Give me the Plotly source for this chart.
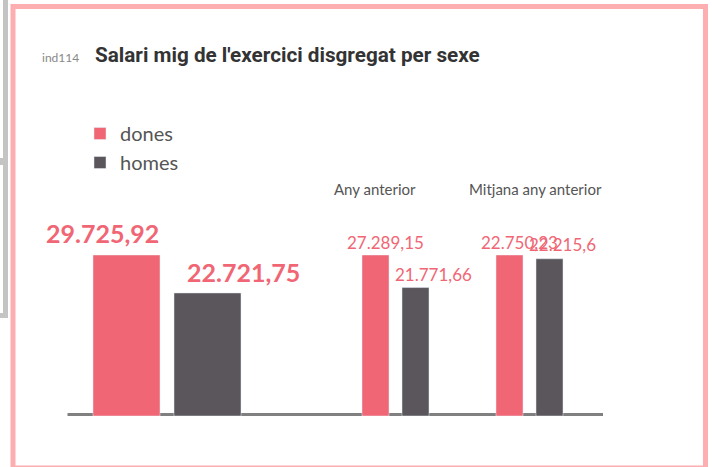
import plotly.graph_objects as go

W, H = 712, 467

# data
sexes = ["dones", "homes"]
group_titles = ["", "Any anterior", "Mitjana any anterior"]
actual = [29725.92, 22721.75]
any_anterior = [27289.15, 21771.66]
mitjana_anterior = [22750.23, 22215.6]
groups = [actual, any_anterior, mitjana_anterior]

PINK = "#f06674"
DARK = "#5a565b"
colors = [PINK, DARK]


def px(x):
    return x / W


def py(y):
    return 1 - y / H


def fmt(v):
    s = f"{v:,.2f}".rstrip("0").rstrip(".")
    return s.replace(",", "#").replace(".", ",").replace("#", ".")


# pixel domains of each group (bars look scaled per group)
x_domains = [(86, 248), (355.5, 435.5), (489.5, 569.5)]
bar_widths = [67 / 81, 27 / 40, 27 / 40]
label_shift = [[(-24, 22), (36, 21)], [(10, 13), (18, 13)], [(10, 13), (13, 14)]]

fig = go.Figure()
annotations = []
for g, vals in enumerate(groups):
    ax = "" if g == 0 else str(g + 1)
    for i, s in enumerate(sexes):
        fig.add_trace(go.Bar(
            x=[s], y=[vals[i]], name=s, marker_color=colors[i],
            width=bar_widths[g], showlegend=(g == 0),
            xaxis="x" + ax, yaxis="y" + ax, hoverinfo="skip",
        ))
        dx, dy = label_shift[g][i]
        annotations.append(dict(
            x=s, y=vals[i], xref="x" + ax, yref="y" + ax, text=fmt(vals[i]),
            showarrow=False, xshift=dx, yshift=dy, yanchor="middle",
            font=dict(family="Lato", size=25 if g == 0 else 17, color=PINK,
                      weight="bold" if g == 0 else "normal"),
        ))
    fig.layout["xaxis" + ax] = dict(
        domain=[px(x_domains[g][0]), px(x_domains[g][1])],
        range=[-0.5, 1.5], visible=False, anchor="y" + ax,
        categoryorder="array", categoryarray=sexes, fixedrange=True,
    )
    fig.layout["yaxis" + ax] = dict(
        domain=[py(416), py(255)], range=[0, max(vals)], visible=False,
        anchor="x" + ax, fixedrange=True,
    )

# group titles
for t, cx in [(group_titles[1], 374.5), (group_titles[2], 535)]:
    annotations.append(dict(x=px(cx), y=py(189), xref="paper", yref="paper",
                            xanchor="center", yanchor="middle", text=t, showarrow=False,
                            font=dict(family="Lato", size=15, color="#555")))

# header
annotations.append(dict(x=px(40), y=py(57), xref="paper", yref="paper",
                        xanchor="left", yanchor="middle", text="ind114", showarrow=False,
                        font=dict(family="Lato", size=12, color="#888")))
annotations.append(dict(x=px(93), y=py(55), xref="paper", yref="paper",
                        xanchor="left", yanchor="middle", showarrow=False,
                        text="<b>Salari mig de l'exercici disgregat per sexe</b>",
                        font=dict(family="Roboto", size=20.7, color="#333")))

shapes = [
    # baseline
    dict(type="line", xref="paper", yref="paper", x0=px(67.5), x1=px(603),
         y0=py(414.5), y1=py(414.5), line=dict(color="#808080", width=3), layer="below"),
    # pink frame
    dict(type="rect", xref="paper", yref="paper", x0=px(13), x1=px(705.5),
         y0=py(6.5), y1=py(468), line=dict(color="#fdaeb0", width=5)),
    # gray bits of the neighbouring panel
    dict(type="rect", xref="paper", yref="paper", x0=px(3), x1=px(8),
         y0=py(0), y1=py(318), fillcolor="#c4c4c4", line_width=0),
    dict(type="rect", xref="paper", yref="paper", x0=px(0), x1=px(8),
         y0=py(158), y1=py(165), fillcolor="#c4c4c4", line_width=0),
    dict(type="rect", xref="paper", yref="paper", x0=px(0), x1=px(8),
         y0=py(313), y1=py(318), fillcolor="#c4c4c4", line_width=0),
]

fig.update_layout(
    width=W, height=H,
    margin=dict(l=0, r=0, t=0, b=0),
    paper_bgcolor="white", plot_bgcolor="white",
    annotations=annotations, shapes=shapes,
    legend=dict(x=px(80), y=py(114), xanchor="left", yanchor="top",
                tracegroupgap=0,
                font=dict(family="Lato", size=20, color="#555"),
                bgcolor="rgba(0,0,0,0)"),
    showlegend=True,
)

# page has a default 8px body margin; drop it so the figure sits at 0,0
fig.write_html("out.html", config={"displayModeBar": False},
               post_script="document.body.style.margin='0px';")
